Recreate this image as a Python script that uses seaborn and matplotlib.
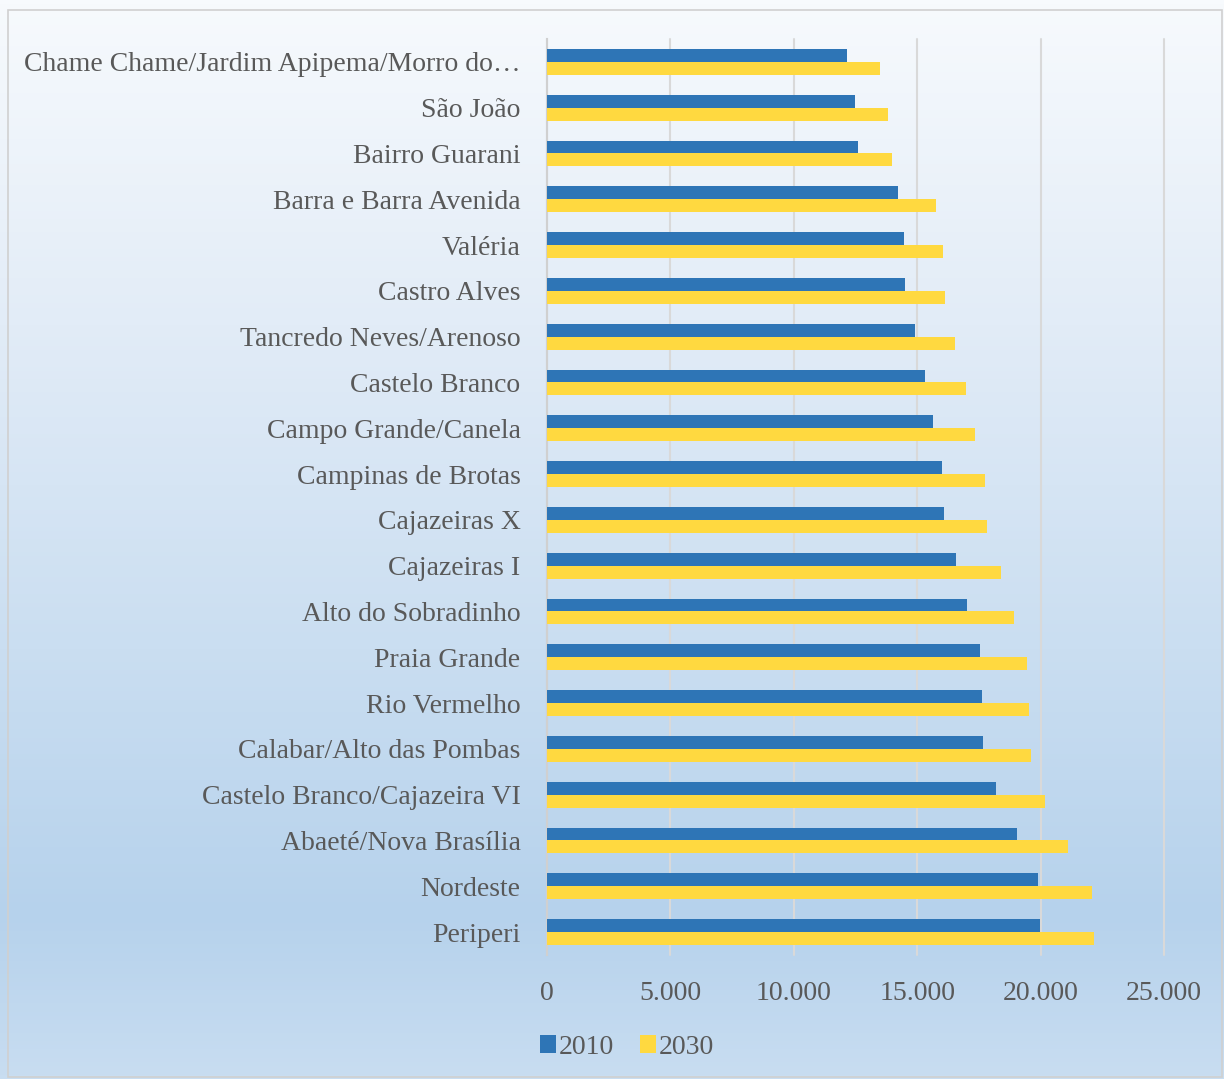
import numpy as np
import pandas as pd
import matplotlib
matplotlib.use("Agg")
import matplotlib.pyplot as plt
from matplotlib.colors import LinearSegmentedColormap
from matplotlib.patches import Rectangle
import seaborn as sns

bairros = [
    "Chame Chame/Jardim Apipema/Morro do…",
    "São João",
    "Bairro Guarani",
    "Barra e Barra Avenida",
    "Valéria",
    "Castro Alves",
    "Tancredo Neves/Arenoso",
    "Castelo Branco",
    "Campo Grande/Canela",
    "Campinas de Brotas",
    "Cajazeiras X",
    "Cajazeiras I",
    "Alto do Sobradinho",
    "Praia Grande",
    "Rio Vermelho",
    "Calabar/Alto das Pombas",
    "Castelo Branco/Cajazeira VI",
    "Abaeté/Nova Brasília",
    "Nordeste",
    "Periperi",
]
v2010 = [12160, 12470, 12590, 14220, 14470, 14520, 14910, 15320, 15660, 16010,
         16080, 16560, 17030, 17530, 17620, 17680, 18200, 19040, 19880, 19990]
v2030 = [13500, 13830, 13970, 15780, 16050, 16110, 16550, 16990, 17360, 17750,
         17840, 18400, 18910, 19440, 19540, 19630, 20190, 21120, 22070, 22170]
anos = ["2010", "2030"]
ticks = [0, 5000, 10000, 15000, 20000, 25000]
tick_labels = ["0", "5.000", "10.000", "15.000", "20.000", "25.000"]

df = pd.DataFrame({
    "bairro": bairros * 2,
    "valor": v2010 + v2030,
    "ano": [anos[0]] * len(bairros) + [anos[1]] * len(bairros),
})

sns.set_theme(style="white")
plt.rcParams['font.family'] = ['Liberation Serif', 'DejaVu Serif']

W, H = 1224, 1079
fig = plt.figure(figsize=(W / 100, H / 100), dpi=100)

# gradient background
bg = fig.add_axes([0, 0, 1, 1], zorder=-10)
cmap = LinearSegmentedColormap.from_list(
    "bg",
    [(0.0, "#F7FAFD"), (0.30, "#E2ECF7"), (0.60, "#CADEF1"), (0.85, "#B6D2EC"), (1.0, "#C8DDF1")],
)
grad = np.linspace(0, 1, 256).reshape(-1, 1)
bg.imshow(grad, aspect="auto", cmap=cmap, extent=[0, 1, 0, 1], origin="upper")
bg.add_patch(Rectangle((8 / W, 1 - 1077 / H), (1222 - 8) / W, (1077 - 10) / H,
                       fill=False, edgecolor="#D0D0D0", lw=1.2, transform=bg.transAxes))
bg.set_xlim(0, 1)
bg.set_ylim(0, 1)
bg.axis("off")

ax = fig.add_axes([547 / W, 1 - 955 / H, (1164 - 547) / W, (955 - 39) / H])
ax.patch.set_alpha(0)

sns.barplot(data=df, y="bairro", x="valor", hue="ano", orient="h",
            palette=["#2E75B6", "#FFD940"], width=0.56, saturation=1,
            edgecolor="none", linewidth=0, ax=ax, legend=True, zorder=3)

ax.set_xlim(0, 25000)
ax.set_xticks(ticks)
ax.set_xticklabels(tick_labels)
ax.set_xlabel("")
ax.set_ylabel("")
ax.grid(axis="x", color="#D9D9D9", lw=1.5, zorder=0)
for gl in ax.get_xgridlines():
    gl.set_clip_on(False)
ax.set_axisbelow(True)
for s in ["top", "right", "bottom"]:
    ax.spines[s].set_visible(False)
ax.spines["left"].set_color("#D0D0D0")
ax.spines["left"].set_linewidth(1.5)
ax.tick_params(axis="y", length=0, pad=19, labelsize=20, labelcolor="#595959")
ax.tick_params(axis="x", length=0, pad=19, labelsize=20, labelcolor="#595959")

handles, labels = ax.get_legend_handles_labels()
ax.legend(handles, labels, loc="center", bbox_to_anchor=((627 - 547) / (1164 - 547), (955 - 1047) / (955 - 39)),
          ncol=2, frameon=False, fontsize=20, labelcolor="#595959",
          handlelength=0.6, handleheight=0.6, handletextpad=0.1, columnspacing=0.9)

fig.savefig("out.png", dpi=100)
